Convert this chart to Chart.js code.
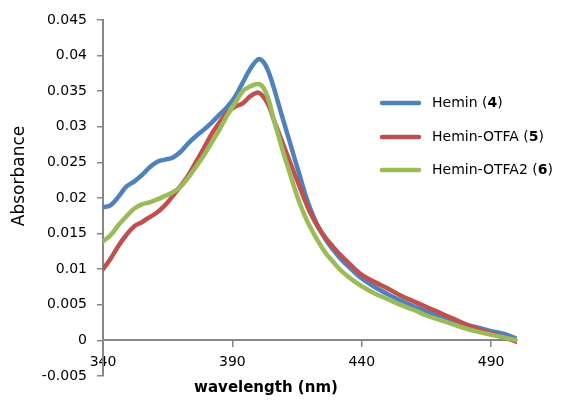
<!DOCTYPE html>
<html>
<head>
<meta charset="utf-8">
<script src="https://cdn.jsdelivr.net/npm/chart.js@4"></script>
<style>
  body { margin: 0; background: #fff; }
  #wrap { width: 561px; height: 400px; }
</style>
</head>
<body>
<div id="wrap"><canvas id="spectra" width="561" height="400"></canvas></div>
<script>
// wavelength (nm) and absorbance
var wavelength = [340, 343, 346, 349, 352, 355, 358, 361, 364, 367, 370, 373, 376, 379, 382, 385, 388, 391, 394, 397,
    400, 402, 404, 406, 408, 410, 412, 414, 416, 418, 420, 423, 426, 429, 432, 436, 440, 445, 450, 455,
    460, 465, 470, 475, 480, 485, 490, 495, 500];

var hemin = [0.0187, 0.0190, 0.0202, 0.0216, 0.0223, 0.0232, 0.0243, 0.0251, 0.0254, 0.0257, 0.0265, 0.0277, 0.0287, 0.0296, 0.0306, 0.0317, 0.0328, 0.0342, 0.0362, 0.0382,
    0.0395, 0.0391, 0.0377, 0.0355, 0.0330, 0.0305, 0.0281, 0.0256, 0.0232, 0.0207, 0.0186, 0.0161, 0.0142, 0.0127, 0.0114, 0.0100, 0.0087, 0.0075, 0.0065, 0.0056,
    0.0048, 0.0041, 0.0034, 0.0027, 0.0022, 0.0018, 0.0013, 0.0009, 0.0002];

var heminOtfa = [0.0100, 0.0115, 0.0133, 0.0148, 0.0160, 0.0166, 0.0173, 0.0180, 0.0190, 0.0203, 0.0217, 0.0232, 0.0251, 0.0270, 0.0290, 0.0306, 0.0320, 0.0328, 0.0333, 0.0343,
    0.0348, 0.0342, 0.0330, 0.0310, 0.0291, 0.0272, 0.0253, 0.0234, 0.0216, 0.0197, 0.0180, 0.0160, 0.0144, 0.0131, 0.0119, 0.0105, 0.0092, 0.0082, 0.0073, 0.0063,
    0.0055, 0.0047, 0.0039, 0.0031, 0.0023, 0.0016, 0.0010, 0.0004, -0.0002];

var heminOtfa2 = [0.0139, 0.0148, 0.0162, 0.0174, 0.0185, 0.0191, 0.0194, 0.0198, 0.0203, 0.0208, 0.0216, 0.0229, 0.0244, 0.0260, 0.0278, 0.0296, 0.0316, 0.0333, 0.0350, 0.0357,
    0.0360, 0.0355, 0.0338, 0.0310, 0.0285, 0.0260, 0.0237, 0.0214, 0.0193, 0.0175, 0.0160, 0.0140, 0.0123, 0.0110, 0.0098, 0.0086, 0.0076, 0.0066, 0.0058, 0.0050,
    0.0043, 0.0035, 0.0029, 0.0023, 0.0017, 0.0012, 0.0008, 0.0004, 0.0000];

var xTicks = [340, 390, 440, 490];
var yTicks = [-0.005, 0, 0.005, 0.01, 0.015, 0.02, 0.025, 0.03, 0.035, 0.04, 0.045];

var seriesNames = [["Hemin (", "4", ")"], ["Hemin-OTFA (", "5", ")"], ["Hemin-OTFA2 (", "6", ")"]];
var seriesColors = ["#4f81bd", "#c0504d", "#9bbb59"];

function toPoints(ys) {
    var pts = [];
    for (var i = 0; i < wavelength.length; ++i) {
        pts.push({x: wavelength[i], y: ys[i]});
    }
    return pts;
}

var FONT = "'DejaVu Sans', sans-serif";
var AXIS = "#868686";

// legend with the bold compound numbers, and the two axis titles
var extras = {
    id: 'extras',
    afterDraw: function (chart) {
        var ctx = chart.ctx;
        ctx.save();
        var rows = [103, 137, 170];
        for (var i = 0; i < seriesNames.length; ++i) {
            var y = rows[i];
            ctx.strokeStyle = seriesColors[i];
            ctx.lineWidth = 4.5;
            ctx.lineCap = 'round';
            ctx.beginPath();
            ctx.moveTo(382, y);
            ctx.lineTo(419, y);
            ctx.stroke();
            var x = 432;
            ctx.fillStyle = '#000';
            ctx.textBaseline = 'middle';
            ctx.textAlign = 'left';
            for (var p = 0; p < 3; ++p) {
                ctx.font = (p === 1 ? 'bold ' : '') + '14px ' + FONT;
                ctx.fillText(seriesNames[i][p], x, y);
                x += ctx.measureText(seriesNames[i][p]).width;
            }
        }
        ctx.font = 'bold 15px ' + FONT;
        ctx.textAlign = 'center';
        ctx.fillText('wavelength (nm)', 266, 388);
        ctx.translate(20, 176);
        ctx.rotate(-Math.PI / 2);
        ctx.font = '17px ' + FONT;
        ctx.fillText('Absorbance', 0, 0);
        ctx.restore();
    }
};

var spectra = new Chart(document.getElementById('spectra'), {
    type: 'scatter',
    data: {
        datasets: [
            {label: 'Hemin (4)', data: toPoints(hemin), borderColor: seriesColors[0], order: 2},
            {label: 'Hemin-OTFA (5)', data: toPoints(heminOtfa), borderColor: seriesColors[1], order: 1},
            {label: 'Hemin-OTFA2 (6)', data: toPoints(heminOtfa2), borderColor: seriesColors[2], order: 0}
        ]
    },
    options: {
        responsive: false,
        animation: false,
        showLine: true,
        layout: {padding: {left: 0, right: 44, top: 20, bottom: 24}},
        elements: {
            point: {radius: 0, hoverRadius: 0},
            line: {borderWidth: 4.5, tension: 0.35, borderCapStyle: 'round', borderJoinStyle: 'round'}
        },
        plugins: {legend: {display: false}, tooltip: {enabled: false}},
        scales: {
            x: {
                type: 'linear',
                min: 340,
                max: 500,
                position: {y: 0},
                afterBuildTicks: function (s) { s.ticks = xTicks.map(function (v) { return {value: v}; }); },
                grid: {drawOnChartArea: false, drawTicks: true, tickLength: 6, color: AXIS, lineWidth: 1.5},
                border: {color: AXIS, width: 2},
                ticks: {font: {family: FONT, size: 14}, color: '#000', padding: 8, autoSkip: false, maxRotation: 0}
            },
            y: {
                min: -0.005,
                max: 0.045,
                afterBuildTicks: function (s) { s.ticks = yTicks.map(function (v) { return {value: v}; }); },
                afterFit: function (s) { s.width = 103; },
                grid: {drawOnChartArea: false, drawTicks: true, tickLength: 6, color: AXIS, lineWidth: 1.5},
                border: {color: AXIS, width: 2},
                ticks: {
                    font: {family: FONT, size: 14}, color: '#000', padding: 10, autoSkip: false,
                    callback: function (v) { return String(+v.toFixed(3)); }
                }
            }
        }
    },
    plugins: [extras]
});
</script>
</body>
</html>
